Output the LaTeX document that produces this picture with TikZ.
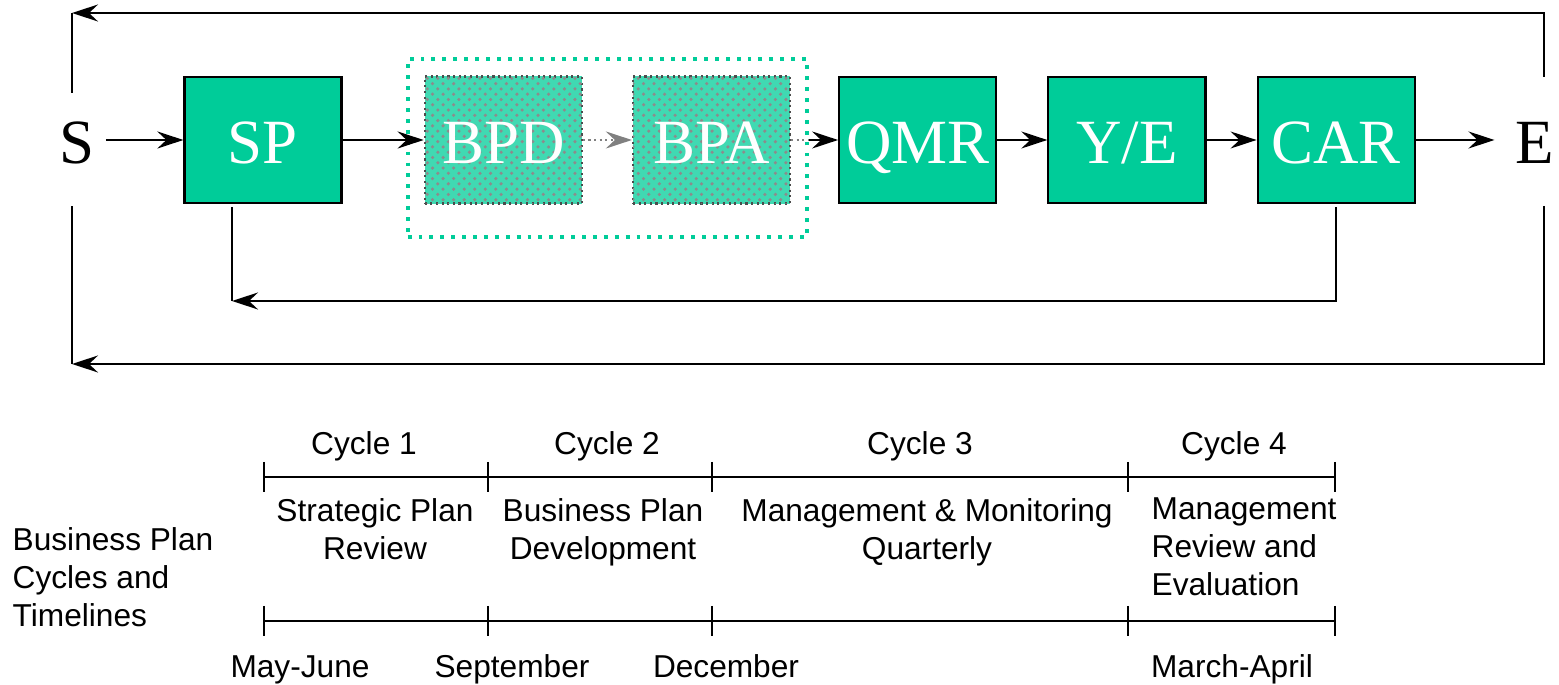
\documentclass[tikz,border=0pt]{standalone}
\usepackage{fontspec}
\setmainfont{Liberation Serif}
\setsansfont{Liberation Sans}
\usetikzlibrary{positioning,fit,calc,patterns,arrows.meta}
\definecolor{stagegreen}{HTML}{00CC99}
\tikzset{
stage/.style={draw=black,line width=0.6pt,fill=stagegreen,minimum width=1.57cm,minimum height=1.26cm,
inner sep=0pt,text height=13.1pt,text depth=0pt,text=white,font=\fontsize{17.9}{20}\selectfont},
planned/.style={draw=black!70,densely dotted,line width=0.6pt,fill=stagegreen!75!white,
postaction={pattern=crosshatch dots,pattern color=black!45},minimum width=1.57cm,minimum height=1.27cm,
inner sep=0pt,text height=13.1pt,text depth=0pt,text=white,font=\fontsize{17.9}{20}\selectfont},
endpt/.style={inner sep=3pt,text height=13.1pt,text depth=0pt,font=\fontsize{17.9}{20}\selectfont},
groupframe/.style={draw=stagegreen,dotted,line width=1.1pt,inner sep=0.16cm},
flow/.style={-{Stealth[length=2.6mm,width=1.7mm,inset=0.9mm]},line width=0.6pt},
greyflow/.style={-{Stealth[length=2.6mm,width=1.7mm,inset=0.9mm]},line width=0.6pt,black!50,densely dotted},
greyline/.style={line width=0.6pt,black!50,densely dotted},
loopline/.style={line width=0.6pt},
tline/.style={line width=0.6pt},
cyc/.style={font=\sffamily\fontsize{9}{10.8}\selectfont,inner sep=0pt,anchor=base},
phase/.style={font=\sffamily\fontsize{9}{10.8}\selectfont,inner sep=0pt,anchor=north,align=center}
}

\begin{document}
\begin{tikzpicture}[x=0.01cm,y=-0.01cm]
\useasboundingbox (0,0) rectangle (1559,685);
\node[stage] (SP) at (263,140) {SP};
\node[planned,right=0.81cm of SP] (BPD) {BPD};
\node[planned,right=0.49cm of BPD] (BPA) {BPA};
\node[stage,right=0.47cm of BPA] (QMR) {QMR};
\node[stage,right=0.50cm of QMR] (YE) {Y/E};
\node[stage,right=0.50cm of YE] (CAR) {CAR};
\coordinate (grpfoot) at ([yshift=-0.16cm]BPD.south);
\node[groupframe,fit=(BPD)(BPA)(grpfoot)] (grp) {};
\node[endpt] (S) at (77,140) {S};
\node[endpt] (E) at (1535,140) {E};

\draw[flow] (S.east) -- (SP.west);
\draw[flow] (SP.east) -- (BPD.west);
\draw[greyflow] (BPD.east) -- (BPA.west);
\draw[greyline] (BPA.east) -- (grp.east |- BPA.east);
\draw[flow] (grp.east |- BPA.east) -- (QMR.west);
\draw[flow] (QMR.east) -- (YE.west);
\draw[flow] (YE.east) -- (CAR.west);
\draw[flow,shorten >=0.1cm] (CAR.east) -- (E.west);

\coordinate (sTop) at (72,93);
\coordinate (sBot) at (72,206);
\coordinate (eTop) at (1544,77);
\coordinate (eBot) at (1544,206);
\coordinate (topL) at (72,13);
\coordinate (botL) at (72,364);
\coordinate (inL) at (232,301);
\draw[flow] (eTop) |- (topL);
\draw[loopline] (topL) -- (sTop);
\draw[flow] (eBot) |- (botL);
\draw[loopline] (botL) -- (sBot);
\draw[flow] ([yshift=-0.03cm]CAR.south) |- (inL);
\draw[loopline] (inL) -- ([yshift=-0.03cm]inL |- SP.south);

\foreach \t/\x in {t1/264,t2/488,t3/712,t4/1128,t5/1335} {
  \coordinate (\t) at (\x,477);
  \coordinate (\t d) at (\x,621);
  \draw[tline] ($(\t)+(0,-15)$) -- ($(\t)+(0,15)$);
  \draw[tline] ($(\t d)+(0,-15)$) -- ($(\t d)+(0,15)$);
}
\draw[tline] (t1) -- (t5);
\draw[tline] (t1d) -- (t5d);

\node[cyc] (c1) at (364,455) {Cycle 1};
\node[cyc] (c2) at (607,455) {Cycle 2};
\node[cyc] (c3) at (920,455) {Cycle 3};
\node[cyc] (c4) at (1234,455) {Cycle 4};

\node[phase] (p1) at (375,498) {Strategic Plan\\Review};
\node[phase] (p2) at (603,498) {Business Plan\\Development};
\node[phase] (p3) at (927,498) {Management \& Monitoring\\Quarterly};
\node[phase,anchor=north west,align=left] (p4) at (1151,497) {Management\\Review and\\Evaluation};
\node[phase,anchor=north west,align=left] (lbl) at (12,527) {Business Plan\\Cycles and\\Timelines};

\node[cyc] (d1) at (300,678) {May-June};
\node[cyc] (d2) at (512,678) {September};
\node[cyc] (d3) at (726,678) {December};
\node[cyc] (d4) at (1232,678) {March-April};
\end{tikzpicture}
\end{document}
